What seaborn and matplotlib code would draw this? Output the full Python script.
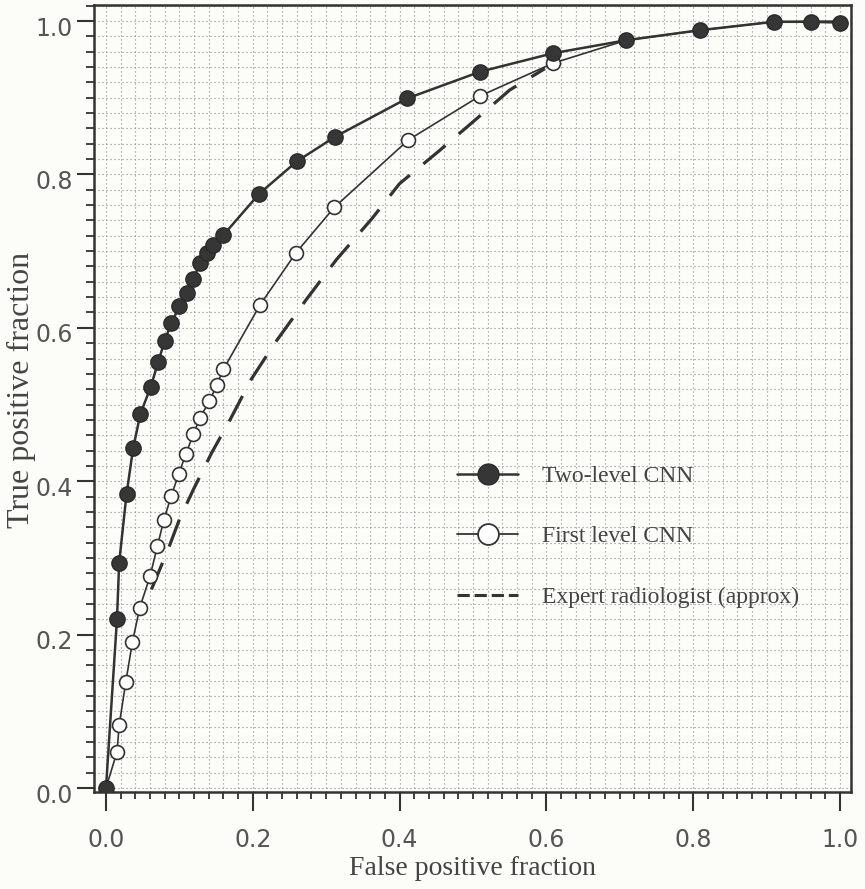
import seaborn as sns
import matplotlib.pyplot as plt
import matplotlib.transforms as mtransforms
from matplotlib.lines import Line2D
from matplotlib.ticker import FixedLocator, MultipleLocator

# ROC points
two_level_fpf = [0.000, 0.015, 0.018, 0.028, 0.037, 0.047, 0.061, 0.071, 0.080, 0.089,
                 0.100, 0.110, 0.119, 0.128, 0.137, 0.146, 0.160, 0.209, 0.260, 0.312,
                 0.410, 0.510, 0.609, 0.709, 0.809, 0.910, 0.960, 1.000]
two_level_tpf = [0.000, 0.220, 0.294, 0.383, 0.443, 0.488, 0.523, 0.555, 0.583, 0.606,
                 0.628, 0.645, 0.664, 0.684, 0.697, 0.708, 0.721, 0.775, 0.817, 0.849,
                 0.899, 0.934, 0.958, 0.975, 0.988, 0.999, 0.999, 0.998]

# first point (origin) and the tail after 0.61 are line only, no open marker
first_level_fpf = [0.000, 0.015, 0.018, 0.027, 0.036, 0.046, 0.060, 0.070, 0.079, 0.089,
                   0.099, 0.109, 0.119, 0.128, 0.141, 0.151, 0.160, 0.210, 0.259, 0.311,
                   0.412, 0.509, 0.609, 0.709, 0.809, 0.910, 1.000]
first_level_tpf = [0.000, 0.047, 0.082, 0.138, 0.190, 0.235, 0.276, 0.315, 0.350, 0.381,
                   0.409, 0.436, 0.461, 0.483, 0.504, 0.526, 0.546, 0.630, 0.698, 0.757,
                   0.845, 0.902, 0.945, 0.975, 0.988, 0.999, 1.000]

expert_fpf = [0.062, 0.085, 0.100, 0.119, 0.144, 0.169, 0.198, 0.230, 0.273, 0.314,
              0.362, 0.400, 0.453, 0.503, 0.550, 0.598]
expert_tpf = [0.259, 0.312, 0.350, 0.389, 0.437, 0.480, 0.533, 0.580, 0.637, 0.689,
              0.742, 0.788, 0.830, 0.871, 0.910, 0.938]

tick_values = [0.0, 0.2, 0.4, 0.6, 0.8, 1.0]
tick_labels = ["0.0", "0.2", "0.4", "0.6", "0.8", "1.0"]
legend_labels = ["Two-level CNN", "First level CNN", "Expert radiologist (approx)"]

sns.set_style("ticks")
plt.rcParams["font.family"] = ["DejaVu Sans"]

bg = "#fcfcf8"
ink = "#333333"
fig = plt.figure(figsize=(8.65, 8.89), dpi=100)
fig.patch.set_facecolor(bg)
ax = fig.add_axes([94 / 865, 1 - 792 / 889, 757 / 865, 787 / 889])
ax.set_facecolor(bg)

# graph-paper style dotted grid
ax.xaxis.set_minor_locator(MultipleLocator(0.02))
ax.yaxis.set_minor_locator(MultipleLocator(0.02))
ax.grid(which="both", ls=(0, (1, 2.6)), lw=0.8, color="#8a8a8a", zorder=0)

sns.lineplot(x=expert_fpf, y=expert_tpf, ax=ax, sort=False, estimator=None,
             color=ink, lw=2.3, ls=(0, (9, 5.5)), zorder=2)
sns.lineplot(x=first_level_fpf, y=first_level_tpf, ax=ax, sort=False, estimator=None,
             color=ink, lw=1.2, marker="o", markersize=10, markerfacecolor="white",
             markeredgecolor=ink, markeredgewidth=1.2, markevery=slice(1, 23), zorder=3)
sns.lineplot(x=two_level_fpf, y=two_level_tpf, ax=ax, sort=False, estimator=None,
             color=ink, lw=1.8, marker="o", markersize=11, markerfacecolor="#363636",
             markeredgecolor="#2a2a2a", markeredgewidth=1.0, zorder=4)

ax.set_xlim(-0.0163, 1.015)
ax.set_ylim(-0.0052, 1.0209)
ax.xaxis.set_major_locator(FixedLocator(tick_values))
ax.yaxis.set_major_locator(FixedLocator(tick_values))
ax.set_xticklabels(tick_labels, fontsize=17, color="#555555")
ax.set_yticklabels(tick_labels, fontsize=17, color="#555555")

ax.tick_params(axis="x", which="major", length=14, width=1.5, pad=12, color=ink)
ax.tick_params(axis="x", which="minor", length=5, width=1.3, color=ink)
ax.tick_params(axis="y", which="major", length=12, width=1.5, pad=3, color=ink)
ax.tick_params(axis="y", which="minor", length=6, width=1.3, color=ink)

# y tick labels sit a little below their ticks in the scan
shift = mtransforms.ScaledTranslation(0, -0.05, fig.dpi_scale_trans)
for lbl in ax.get_yticklabels():
    lbl.set_transform(lbl.get_transform() + shift)

for side in ["left", "right", "top", "bottom"]:
    ax.spines[side].set_visible(True)
    ax.spines[side].set_color(ink)
    ax.spines[side].set_linewidth(1.8)

ax.set_xlabel("False positive fraction", fontfamily="Liberation Serif", fontsize=20,
              color="#444444", labelpad=3)
ax.set_ylabel("True positive fraction", fontfamily="Liberation Serif", fontsize=23,
              color="#444444")
ax.yaxis.set_label_coords(-0.0766, 0.511)

handles = [
    Line2D([], [], color=ink, lw=1.8, marker="o", markersize=15,
           markerfacecolor="#363636", markeredgecolor="#2a2a2a"),
    Line2D([], [], color=ink, lw=1.3, marker="o", markersize=15,
           markerfacecolor="white", markeredgecolor=ink, markeredgewidth=1.3),
    Line2D([], [], color=ink, lw=2.2, ls=(0, (4, 1.6))),
]
ax.legend(handles, legend_labels, loc="upper left", bbox_to_anchor=(0.4795, 0.4150),
          frameon=False, prop={"family": "Liberation Serif", "size": 17},
          labelcolor="#444444", handlelength=2.6, handletextpad=1.0,
          labelspacing=1.65, borderpad=0, borderaxespad=0)

fig.savefig("out.png", dpi=100, facecolor=bg)
